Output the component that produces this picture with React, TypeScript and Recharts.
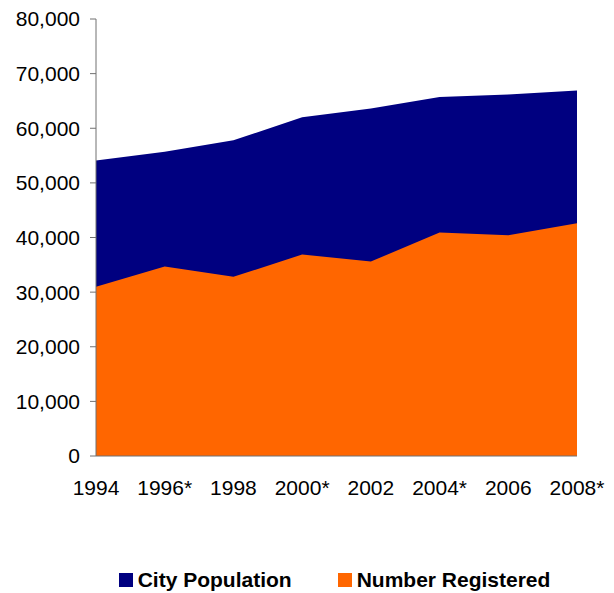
import React from 'react'
import { AreaChart, Area, XAxis, YAxis, Legend } from 'recharts'

const anos = ['1994', '1996*', '1998', '2000*', '2002', '2004*', '2006', '2008*']
const populacao = [54100, 55700, 57800, 62000, 63600, 65700, 66200, 66900]
const registrados = [31000, 34700, 32800, 36900, 35600, 40900, 40400, 42600]
const ticksY = [0, 10000, 20000, 30000, 40000, 50000, 60000, 70000, 80000]

const dados = anos.map((ano, i) => ({
  ano,
  populacao: populacao[i],
  registrados: registrados[i],
}))

const FONTE = '"Liberation Sans", Arial, sans-serif'
const NAVY = '#000080'
const LARANJA = '#FF6600'

function Legenda() {
  const itens = [
    { nome: 'City Population', cor: NAVY },
    { nome: 'Number Registered', cor: LARANJA },
  ]
  return (
    <div style={{ display: 'flex', justifyContent: 'center', gap: 46, height: 20, alignItems: 'center', fontFamily: FONTE }}>
      {itens.map((it) => (
        <div key={it.nome} style={{ display: 'flex', alignItems: 'center' }}>
          <span style={{ width: 14, height: 14, background: it.cor, display: 'inline-block', marginRight: 5 }} />
          <span style={{ fontSize: 21, fontWeight: 'bold', color: '#000' }}>{it.nome}</span>
        </div>
      ))}
    </div>
  )
}

export default function App() {
  return (
    <div style={{ position: 'absolute', left: 0, top: 0, background: '#fff' }}>
      <AreaChart width={614} height={593} data={dados} margin={{ top: 19, right: 37, left: 0, bottom: 3 }}>
        <XAxis
          dataKey="ano"
          height={114}
          tickLine={false}
          tickSize={0}
          tickMargin={24}
          stroke="#707070"
          tick={{ fontSize: 21, fill: '#000', fontFamily: FONTE }}
          interval={0}
        />
        <YAxis
          width={96}
          domain={[0, 80000]}
          ticks={ticksY}
          tickSize={6}
          tickMargin={10}
          stroke="#707070"
          tick={{ fontSize: 21, fill: '#000', fontFamily: FONTE }}
          tickFormatter={(v: number) => v.toLocaleString('en-US')}
        />
        <Area dataKey="populacao" name="City Population" type="linear" fill={NAVY} fillOpacity={1} stroke="none" isAnimationActive={false} />
        <Area dataKey="registrados" name="Number Registered" type="linear" fill={LARANJA} fillOpacity={1} stroke="none" isAnimationActive={false} />
        <Legend verticalAlign="bottom" wrapperStyle={{ left: 92, width: 485 }} content={() => <Legenda />} />
      </AreaChart>
    </div>
  )
}
